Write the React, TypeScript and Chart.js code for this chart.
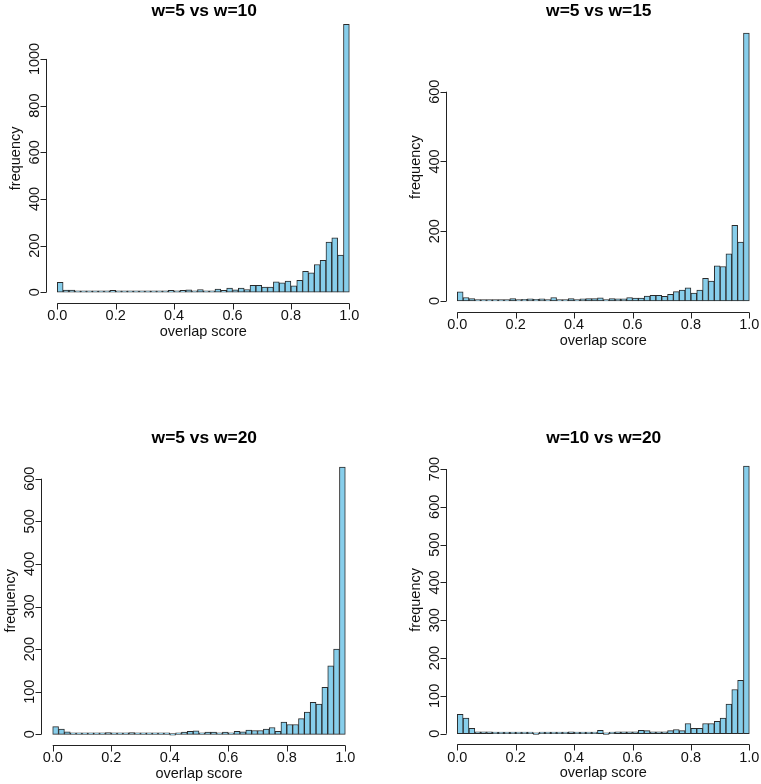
import React, { useEffect, useRef } from 'react';
import { Chart, registerables } from 'chart.js';

Chart.register(...registerables);

// ---------- data ----------
const BIN_COUNT = 50;
const BIN_WIDTH = 0.02;
const BIN_CENTERS: number[] = Array.from({ length: BIN_COUNT }, (_, i) => +(BIN_WIDTH * (i + 0.5)).toFixed(3));

const X_TICKS = [0, 0.2, 0.4, 0.6, 0.8, 1.0];
const X_TICK_LABELS = ['0.0', '0.2', '0.4', '0.6', '0.8', '1.0'];
const X_TITLE = 'overlap score';
const Y_TITLE = 'frequency';

const TITLE_W5_W10 = 'w=5 vs w=10';
const TITLE_W5_W15 = 'w=5 vs w=15';
const TITLE_W5_W20 = 'w=5 vs w=20';
const TITLE_W10_W20 = 'w=10 vs w=20';

const COUNTS_W5_W10 = [43, 9, 9, 3, 1, 1, 2, 2, 2, 8, 1, 6, 4, 4, 5, 6, 4, 4, 6, 8, 4, 8, 10, 3, 12, 2, 6, 14, 8, 18, 10, 18, 12, 30, 30, 22, 22, 45, 40, 48, 28, 51, 90, 83, 119, 137, 215, 233, 159, 1148];
const COUNTS_W5_W15 = [26, 10, 7, 2, 3, 2, 2, 3, 2, 7, 2, 5, 6, 5, 6, 1, 10, 4, 2, 7, 2, 6, 7, 7, 9, 3, 7, 6, 6, 10, 8, 8, 14, 16, 16, 13, 19, 27, 31, 38, 23, 31, 65, 57, 101, 99, 135, 217, 169, 768];
const COUNTS_W5_W20 = [18, 12, 6, 1, 2, 1, 2, 2, 2, 4, 1, 2, 2, 4, 3, 2, 2, 1, 1, 2, 0, 2, 5, 7, 8, 1, 5, 5, 2, 5, 2, 7, 6, 10, 9, 9, 12, 16, 7, 29, 23, 23, 37, 52, 75, 71, 110, 161, 200, 627];
const COUNTS_W10_W20 = [51, 41, 14, 5, 5, 5, 2, 2, 1, 2, 1, 1, 2, 0, 2, 2, 2, 1, 1, 5, 1, 1, 1, 4, 9, 0, 4, 5, 5, 5, 5, 9, 8, 5, 5, 5, 8, 11, 8, 27, 14, 14, 27, 27, 33, 41, 78, 117, 141, 708];

const Y_TICKS_W5_W10 = [0, 200, 400, 600, 800, 1000];
const Y_TICKS_W5_W15 = [0, 200, 400, 600];
const Y_TICKS_W5_W20 = [0, 100, 200, 300, 400, 500, 600];
const Y_TICKS_W10_W20 = [0, 100, 200, 300, 400, 500, 600, 700];

// ---------- styles / layout ----------
const FONT_FAMILY = '"Liberation Sans", Arial, Helvetica, sans-serif';
const AXIS_FONT = `14.5px ${FONT_FAMILY}`;
const TITLE_FONT = `bold 17.4px ${FONT_FAMILY}`;
const BAR_FILL = '#87CEEB';
const BAR_BORDER = '#2a2a2a';
const AXIS_COLOR = '#222222';
const TEXT_COLOR = '#111111';

type Layout = {
  left: number; top: number; width: number; height: number;
  pad: { left: number; top: number; right: number; bottom: number };
  titleX: number; titleY: number;
};

const LAYOUTS: Layout[] = [
  { left: 0, top: 0, width: 380, height: 392, pad: { left: 45.6, top: 13.7, right: 19, bottom: 89 }, titleX: 204.2, titleY: 15.5 },
  { left: 380, top: 0, width: 381, height: 392, pad: { left: 65.6, top: 22.4, right: 0, bottom: 80.3 }, titleX: 218.8, titleY: 15.5 },
  { left: 0, top: 392, width: 380, height: 392, pad: { left: 41, top: 64.5, right: 23, bottom: 39 }, titleX: 204.3, titleY: 50.8 },
  { left: 380, top: 392, width: 381, height: 392, pad: { left: 65.6, top: 63.3, right: 0, bottom: 39.6 }, titleX: 223.7, titleY: 50.8 },
];

const PANELS = [
  { title: TITLE_W5_W10, counts: COUNTS_W5_W10, yTicks: Y_TICKS_W5_W10 },
  { title: TITLE_W5_W15, counts: COUNTS_W5_W15, yTicks: Y_TICKS_W5_W15 },
  { title: TITLE_W5_W20, counts: COUNTS_W5_W20, yTicks: Y_TICKS_W5_W20 },
  { title: TITLE_W10_W20, counts: COUNTS_W10_W20, yTicks: Y_TICKS_W10_W20 },
];

const TICK_LEN = 6;

function makeAxesPlugin(title: string, yTicks: number[], layout: Layout) {
  return {
    id: 'rBaseAxes',
    afterDraw(chart: any) {
      const { ctx, chartArea: area } = chart;
      const xs = chart.scales.x;
      const ys = chart.scales.y;
      ctx.save();
      ctx.strokeStyle = AXIS_COLOR;
      ctx.fillStyle = TEXT_COLOR;
      ctx.lineWidth = 1;

      // x axis
      const xAxisY = Math.round(area.bottom) + 0.5;
      const x0 = xs.getPixelForValue(X_TICKS[0]);
      const x1 = xs.getPixelForValue(X_TICKS[X_TICKS.length - 1]);
      ctx.beginPath();
      ctx.moveTo(x0, xAxisY);
      ctx.lineTo(x1, xAxisY);
      X_TICKS.forEach((t) => {
        const px = Math.round(xs.getPixelForValue(t)) + 0.5;
        ctx.moveTo(px, xAxisY);
        ctx.lineTo(px, xAxisY + TICK_LEN);
      });
      ctx.stroke();
      ctx.font = AXIS_FONT;
      ctx.textAlign = 'center';
      ctx.textBaseline = 'alphabetic';
      X_TICKS.forEach((t, i) => {
        ctx.fillText(X_TICK_LABELS[i], xs.getPixelForValue(t), area.bottom + 17.2);
      });
      ctx.fillText(X_TITLE, (area.left + area.right) / 2, area.bottom + 33);

      // y axis
      const yAxisX = Math.round(area.left) + 0.5;
      const yb = ys.getPixelForValue(yTicks[0]);
      const yt = ys.getPixelForValue(yTicks[yTicks.length - 1]);
      ctx.beginPath();
      ctx.moveTo(yAxisX, yb);
      ctx.lineTo(yAxisX, yt);
      yTicks.forEach((t) => {
        const py = Math.round(ys.getPixelForValue(t)) + 0.5;
        ctx.moveTo(yAxisX, py);
        ctx.lineTo(yAxisX - TICK_LEN, py);
      });
      ctx.stroke();
      yTicks.forEach((t) => {
        ctx.save();
        ctx.translate(area.left - 7, ys.getPixelForValue(t));
        ctx.rotate(-Math.PI / 2);
        ctx.fillText(String(t), 0, 0);
        ctx.restore();
      });
      ctx.save();
      ctx.translate(area.left - 26, (area.top + area.bottom) / 2);
      ctx.rotate(-Math.PI / 2);
      ctx.fillText(Y_TITLE, 0, 0);
      ctx.restore();

      // main title
      ctx.font = TITLE_FONT;
      ctx.fillStyle = '#000000';
      ctx.fillText(title, layout.titleX, layout.titleY);
      ctx.restore();
    },
  };
}

function HistPanel({ index }: { index: number }) {
  const ref = useRef<HTMLCanvasElement | null>(null);
  const panel = PANELS[index];
  const layout = LAYOUTS[index];

  useEffect(() => {
    if (!ref.current) return;
    const maxCount = Math.max(...panel.counts);
    const chart = new Chart(ref.current, {
      type: 'bar',
      data: {
        datasets: [
          {
            data: BIN_CENTERS.map((c, i) => ({ x: c, y: panel.counts[i] })),
            backgroundColor: BAR_FILL,
            borderColor: BAR_BORDER,
            borderWidth: 1,
            borderSkipped: false,
            barPercentage: 1,
            categoryPercentage: 1,
            minBarLength: 1.5,
          } as any,
        ],
      },
      options: {
        animation: false,
        responsive: false,
        maintainAspectRatio: false,
        devicePixelRatio: 1,
        layout: { padding: layout.pad },
        plugins: {
          legend: { display: false },
          tooltip: { enabled: false },
          title: { display: false },
        },
        scales: {
          x: {
            type: 'linear',
            min: -0.04,
            max: 1.04,
            offset: false,
            display: false,
            ticks: { stepSize: 0.2 },
          },
          y: {
            type: 'linear',
            min: -0.04 * maxCount,
            max: 1.04 * maxCount,
            display: false,
          },
        },
      } as any,
      plugins: [makeAxesPlugin(panel.title, panel.yTicks, layout)],
    });
    return () => chart.destroy();
  }, [index]);

  return (
    <canvas
      ref={ref}
      width={layout.width}
      height={layout.height}
      style={{ position: 'absolute', left: layout.left, top: layout.top, width: layout.width, height: layout.height }}
    />
  );
}

export default function App() {
  return (
    <div style={{ position: 'absolute', left: 0, top: 0, width: 761, height: 784, background: '#ffffff' }}>
      {PANELS.map((_, i) => (
        <HistPanel key={i} index={i} />
      ))}
    </div>
  );
}
